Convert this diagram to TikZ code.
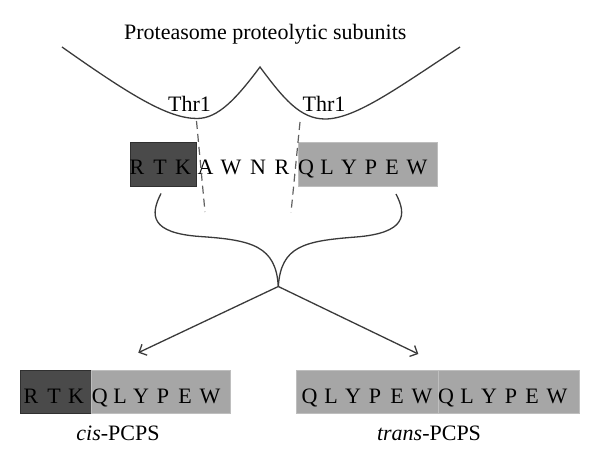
\documentclass[tikz,border=0pt]{standalone}
\usepackage{fontspec}
\setmainfont{Liberation Serif}
\usetikzlibrary{arrows.meta}
\definecolor{darkfill}{HTML}{4A4A4A}
\definecolor{darkedge}{HTML}{303030}
\definecolor{lightfill}{HTML}{A6A6A6}
\definecolor{lightedge}{HTML}{BEBEBE}
\definecolor{linegray}{HTML}{3A3A3A}
\definecolor{dashgray}{HTML}{606060}
\begin{document}
\begin{tikzpicture}[x=1pt,y=-1pt,
  every node/.style={inner sep=0pt, font=\fontsize{22}{26}\selectfont},
  curveline/.style={draw=linegray, line width=1.3pt},
  cutline/.style={draw=dashgray, line width=1.2pt, dash pattern=on 8pt off 5pt},
  darkbox/.style={fill=darkfill, draw=darkedge, line width=0.8pt},
  lightbox/.style={fill=lightfill, draw=lightedge, line width=0.8pt},
  aa/.style={text=black, anchor=base},
  arr/.style={curveline, -{Straight Barb[length=6pt,width=12pt,line width=1.3pt]}}]
\useasboundingbox (0,0) rectangle (600,468);

% title
\node[anchor=base] (title) at (265.3,40) {Proteasome proteolytic subunits};

% proteasome surface
\draw[curveline] (62,47) .. controls (130,95) and (168,118.5) .. (197,118.5)
  .. controls (218,118.5) and (236,99) .. (260,67)
  .. controls (283,98) and (300,119) .. (325,119)
  .. controls (356,119) and (400,86) .. (460,47);

\node[anchor=base] (thrL) at (189.5,111.7) {Thr1};
\node[anchor=base] (thrR) at (324,111.7) {Thr1};

% middle peptide boxes
\node[darkbox, minimum width=65.3, minimum height=44] (mdark) at (163.3,164.5) {};
\node[lightbox, minimum width=139, minimum height=44] (mlight) at (368,164.5) {};
\foreach \c/\x [count=\i] in {R/137,T/160,K/183,A/205.5,W/231,N/258,R/282,Q/306,L/327,Y/349,P/371,E/392,W/417}
  \node[aa] (m\i) at (\x,174.5) {\c};

% cleavage cuts
\coordinate (cutLa) at (196.5,121);
\coordinate (cutLb) at (205,212);
\coordinate (cutRa) at (300,122);
\coordinate (cutRb) at (291,212.7);
\draw[cutline] (cutLa) -- (cutLb);
\draw[cutline] (cutRa) -- (cutRb);

% braces
\coordinate (braceL) at (161,193.5);
\coordinate (braceR) at (396,194);
\coordinate (apex) at (278.3,286.5);
\draw[curveline] (braceL) .. controls (150,215) and (150,233) .. (200,236.5)
  .. controls (252,240) and (276,246) .. (apex);
\draw[curveline] (braceR) .. controls (407,215) and (406,233) .. (356,237)
  .. controls (304,241) and (281,246) .. (apex);

% arrows
\coordinate (tipL) at (138.3,352.7);
\coordinate (tipR) at (418.3,354);
\draw[arr] (apex) -- (tipL);
\draw[arr] (apex) -- (tipR);

% cis product
\node[darkbox, minimum width=71.5, minimum height=43] (cdark) at (55.75,391.5) {};
\node[lightbox, minimum width=138.5, minimum height=43] (clight) at (160.75,391.5) {};
\foreach \c/\x [count=\i] in {R/31,T/54,K/76,Q/99.7,L/120,Y/141,P/163,E/185,W/210}
  \node[aa] (c\i) at (\x,403.3) {\c};
\node[anchor=base] (cislab) at (118,440) {\textit{cis}-PCPS};

% trans product
\node[lightbox, minimum width=142, minimum height=43] (tleft) at (367,391.5) {};
\node[lightbox, minimum width=141, minimum height=43] (tright) at (508.5,391.5) {};
\foreach \c/\x [count=\i] in {Q/309.5,L/331,Y/353,P/375,E/397,W/422,Q/446,L/467,Y/489,P/511,E/532,W/557}
  \node[aa] (t\i) at (\x,403.3) {\c};
\node[anchor=base] (translab) at (429,440) {\textit{trans}-PCPS};
\end{tikzpicture}
\end{document}
